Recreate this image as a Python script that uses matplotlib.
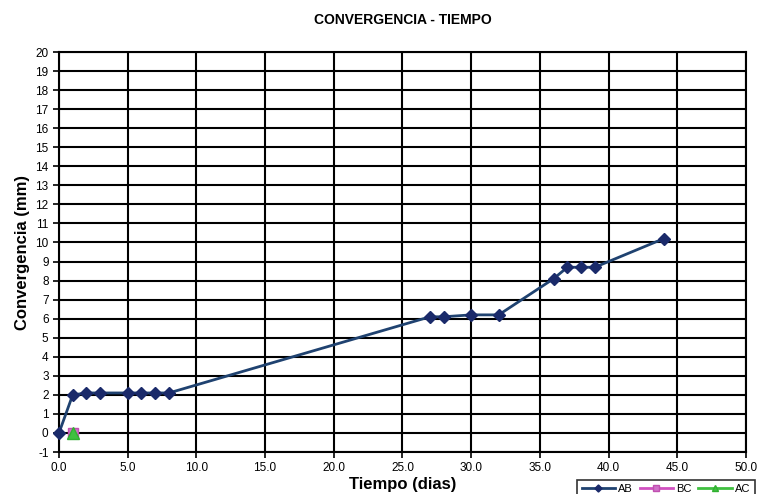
import matplotlib
matplotlib.use("Agg")
import matplotlib.pyplot as plt
from matplotlib.ticker import MultipleLocator, FormatStrFormatter

plt.rcParams['font.family'] = ['Liberation Sans Narrow', 'Liberation Sans', 'DejaVu Sans']
plt.rcParams['axes.unicode_minus'] = False

ab_x = [0, 1, 2, 3, 5, 6, 7, 8, 27, 28, 30, 32, 36, 37, 38, 39, 44]
ab_y = [0, 2.0, 2.1, 2.1, 2.1, 2.1, 2.1, 2.1, 6.1, 6.1, 6.2, 6.2, 8.1, 8.7, 8.7, 8.7, 10.2]
bc_x = [1]
bc_y = [0]
ac_x = [1]
ac_y = [0]

fig = plt.figure(figsize=(7.6, 4.94), dpi=100)
ax = fig.add_axes([0.0776, 0.085, 0.904, 0.8097])

ax.plot(ab_x, ab_y, color='#1f4270', lw=2, marker='D', ms=6, mfc='#1a2a6a', mec='#1a2a6a',
        label='AB', zorder=5, clip_on=False)
ax.plot(bc_x, bc_y, color='#d050c0', lw=2, marker='s', ms=7, mfc='#d070c8', mec='#c050b0',
        label='BC', zorder=4, clip_on=False)
ax.plot(ac_x, ac_y, color='#40c040', lw=2, marker='^', ms=8, mfc='#40c040', mec='#30b030',
        label='AC', zorder=6, clip_on=False)

ax.set_xlim(0, 50)
ax.set_ylim(-1, 20)
ax.xaxis.set_major_locator(MultipleLocator(5))
ax.yaxis.set_major_locator(MultipleLocator(1))
ax.xaxis.set_major_formatter(FormatStrFormatter('%.1f'))
ax.grid(True, color='black', lw=1.5)
ax.set_axisbelow(True)
for s in ax.spines.values():
    s.set_color('black')
    s.set_linewidth(1.5)
ax.tick_params(direction='out', length=4, width=1.2, labelsize=8.5, colors='black')

ax.set_title('CONVERGENCIA - TIEMPO', fontsize=10, fontweight='bold', pad=20)
ax.set_xlabel('Tiempo (dias)', fontsize=12, fontweight='bold', labelpad=2)
ax.set_ylabel('Convergencia (mm)', fontsize=12, fontweight='bold', labelpad=4)

leg = fig.legend(loc='upper left', bbox_to_anchor=(0.752, 0.04), ncol=3, fontsize=8,
                 frameon=True, fancybox=False, edgecolor='black', handlelength=3,
                 columnspacing=0.6, handletextpad=0.3, borderpad=0.4, markerscale=0.6)
leg.get_frame().set_linewidth(1.2)

fig.savefig('out.png', dpi=100)
